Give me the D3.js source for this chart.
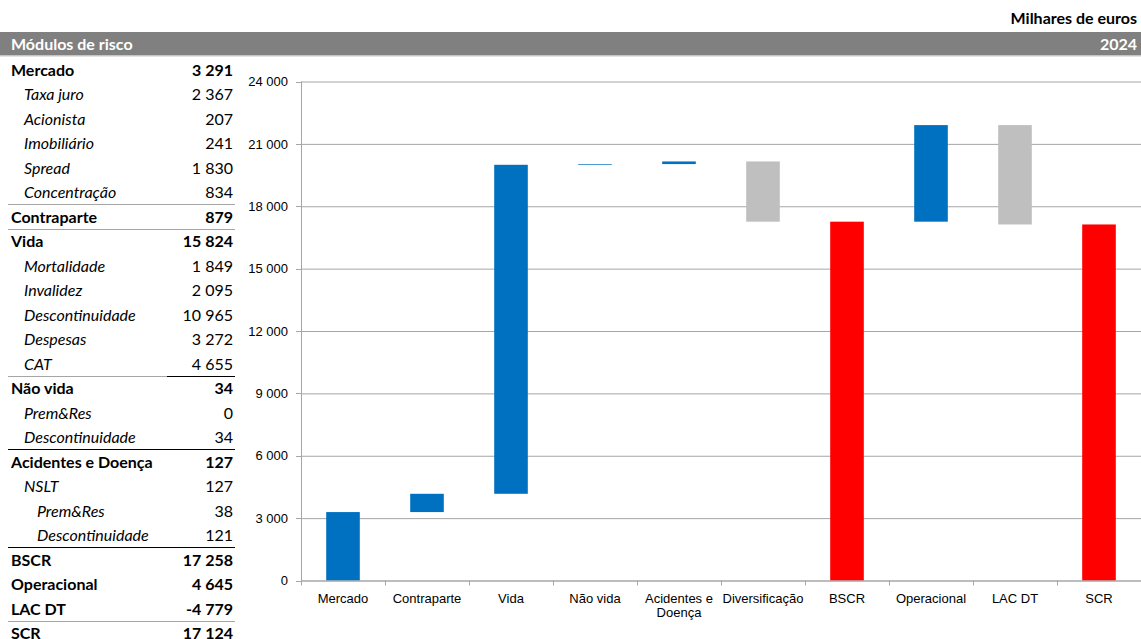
<!DOCTYPE html>
<html>
<head>
<meta charset="utf-8">
<script src="https://cdn.jsdelivr.net/npm/d3@7"></script>
<style>
  body { margin: 0; background: #fff; }
  svg { display: block; }
  .tbl { font-family: Lato, "Noto Sans", sans-serif; font-size: 16px; fill: #000; }
  .chart text { font-family: "Liberation Sans", Arial, sans-serif; font-size: 13px; fill: #000; }
</style>
</head>
<body>
<div id="chart-area"></div>
<script>
// table data
var tableLabels = ["Mercado", "Taxa juro", "Acionista", "Imobiliário", "Spread", "Concentração",
    "Contraparte", "Vida", "Mortalidade", "Invalidez", "Descontinuidade", "Despesas", "CAT",
    "Não vida", "Prem&Res", "Descontinuidade", "Acidentes e Doença", "NSLT", "Prem&Res",
    "Descontinuidade", "BSCR", "Operacional", "LAC DT", "SCR"];
var tableValues = [3291, 2367, 207, 241, 1830, 834, 879, 15824, 1849, 2095, 10965, 3272, 4655,
    34, 0, 34, 127, 127, 38, 121, 17258, 4645, -4779, 17124];
var tableLevels = [0, 1, 1, 1, 1, 1, 0, 0, 1, 1, 1, 1, 1, 0, 1, 1, 0, 1, 2, 2, 0, 0, 0, 0];

// chart data
var categories = ["Mercado", "Contraparte", "Vida", "Não vida", "Acidentes e Doença",
    "Diversificação", "BSCR", "Operacional", "LAC DT", "SCR"];
var stepValues = [3291, 879, 15824, 34, 127, -2897, 17258, 4645, -4779, 17124];
var stepTypes = ["up", "up", "up", "up", "up", "down", "total", "up", "down", "total"];
var yTicks = [0, 3000, 6000, 9000, 12000, 15000, 18000, 21000, 24000];

var W = 1141, H = 639;
var locale = d3.formatLocale({ decimal: ",", thousands: " ", grouping: [3], currency: ["", ""], minus: "-" });
var fmt = locale.format(",d");

var svg = d3.select("#chart-area").append("svg")
    .attr("width", W)
    .attr("height", H);

// header
svg.append("text")
    .attr("class", "tbl")
    .attr("x", 1137).attr("y", 24)
    .attr("text-anchor", "end")
    .attr("font-weight", "bold")
    .text("Milhares de euros");

svg.append("rect")
    .attr("x", 0).attr("y", 32)
    .attr("width", W).attr("height", 23.5)
    .attr("fill", "#808080");
svg.append("line")
    .attr("x1", 0).attr("x2", W)
    .attr("y1", 56).attr("y2", 56)
    .attr("stroke", "#c8c8c8");

svg.append("text")
    .attr("class", "tbl")
    .attr("x", 11).attr("y", 49.5)
    .attr("font-weight", "bold")
    .style("fill", "#fff")
    .text("Módulos de risco");
svg.append("text")
    .attr("class", "tbl")
    .attr("x", 1137).attr("y", 49.5)
    .attr("text-anchor", "end")
    .attr("font-weight", "bold")
    .style("fill", "#fff")
    .text("2024");

// left table
var rowY = i => 70 + i * 24.48;
var tbl = svg.append("g");

tableLabels.forEach((lab, i) => {
    var lvl = tableLevels[i];
    tbl.append("text")
        .attr("class", "tbl")
        .attr("x", 11 + lvl * 13)
        .attr("y", rowY(i) + 6)
        .attr("font-weight", lvl === 0 ? "bold" : "normal")
        .attr("font-style", lvl === 0 ? "normal" : "italic")
        .text(lab);
    tbl.append("text")
        .attr("class", "tbl")
        .attr("x", 233)
        .attr("y", rowY(i) + 6)
        .attr("text-anchor", "end")
        .attr("font-weight", lvl === 0 ? "bold" : "normal")
        .text(fmt(tableValues[i]));
});

// separator lines below rows
var rules = [
    { row: 5, color: "#a6a6a6" },
    { row: 6, color: "#a6a6a6" },
    { row: 12, color: "#a6a6a6" },
    { row: 15, color: "#000" },
    { row: 19, color: "#000" },
    { row: 22, color: "#a6a6a6" }
];
rules.forEach(r => {
    var yy = Math.round(rowY(r.row) + 12) + 0.5;
    tbl.append("line")
        .attr("x1", 8).attr("x2", 235)
        .attr("y1", yy).attr("y2", yy)
        .attr("stroke", r.color);
});
// black part under CAT
var catY = Math.round(rowY(12) + 12) + 0.5;
tbl.append("line")
    .attr("x1", 167).attr("x2", 235)
    .attr("y1", catY).attr("y2", catY)
    .attr("stroke", "#000");

// chart
var plotLeft = 301, plotRight = 1141, plotTop = 81.5, plotBottom = 580.5;

var g = svg.append("g").attr("class", "chart");

var x = d3.scaleBand()
    .domain(categories)
    .range([plotLeft, plotRight])
    .paddingInner(0.6)
    .paddingOuter(0.3);

var xSlot = d3.scaleBand()
    .domain(categories)
    .range([plotLeft, plotRight]);

var y = d3.scaleLinear()
    .domain([0, 24000])
    .range([plotBottom, plotTop]);

// gridlines + y axis labels
var yAxis = d3.axisLeft(y)
    .tickValues(yTicks)
    .tickSize(-(plotRight - plotLeft))
    .tickPadding(13)
    .tickFormat(d => fmt(d));

var yg = g.append("g")
    .attr("transform", `translate(${plotLeft},0)`)
    .call(yAxis);
yg.select(".domain").remove();
yg.selectAll(".tick line").attr("stroke", "#a6a6a6");

// small tick marks on the left
g.selectAll(".ytick")
    .data(yTicks)
    .enter().append("line")
    .attr("x1", plotLeft - 5).attr("x2", plotLeft)
    .attr("y1", d => Math.round(y(d)) + 0.5)
    .attr("y2", d => Math.round(y(d)) + 0.5)
    .attr("stroke", "#a6a6a6");

// bars: compute waterfall ranges
var running = 0;
var bars = categories.map((c, i) => {
    var v = stepValues[i];
    var t = stepTypes[i];
    var y0, y1;
    if (t === "total") {
        y0 = 0; y1 = v; running = v;
    } else {
        y0 = running; y1 = running + v; running = y1;
    }
    return { cat: c, lo: Math.min(y0, y1), hi: Math.max(y0, y1), type: t };
});

var colors = { up: "#0070c0", down: "#bfbfbf", total: "#ff0000" };

g.selectAll("rect.bar")
    .data(bars)
    .enter().append("rect")
    .attr("class", "bar")
    .attr("x", d => x(d.cat))
    .attr("y", d => y(d.hi))
    .attr("width", x.bandwidth())
    .attr("height", d => y(d.lo) - y(d.hi))
    .attr("fill", d => colors[d.type]);

// x axis line and ticks
g.append("line")
    .attr("x1", plotLeft).attr("x2", plotRight)
    .attr("y1", plotBottom + 0.5).attr("y2", plotBottom + 0.5)
    .attr("stroke", "#a6a6a6");
g.append("line")
    .attr("x1", plotLeft + 0.5).attr("x2", plotLeft + 0.5)
    .attr("y1", plotTop).attr("y2", plotBottom + 5)
    .attr("stroke", "#a6a6a6");

g.selectAll(".xtick")
    .data(categories)
    .enter().append("line")
    .attr("x1", d => Math.round(xSlot(d) + xSlot.step()) + 0.5)
    .attr("x2", d => Math.round(xSlot(d) + xSlot.step()) + 0.5)
    .attr("y1", plotBottom).attr("y2", plotBottom + 5)
    .attr("stroke", "#a6a6a6");

// x labels
var labelLines = {
    "Acidentes e Doença": ["Acidentes e", "Doença"]
};
categories.forEach(c => {
    var lines = labelLines[c] || [c];
    var cx = xSlot(c) + xSlot.bandwidth() / 2;
    var t = g.append("text")
        .attr("x", cx)
        .attr("y", 602.5)
        .attr("text-anchor", "middle");
    lines.forEach((ln, k) => {
        t.append("tspan")
            .attr("x", cx)
            .attr("dy", k === 0 ? 0 : 14.5)
            .text(ln);
    });
});
</script>
</body>
</html>
